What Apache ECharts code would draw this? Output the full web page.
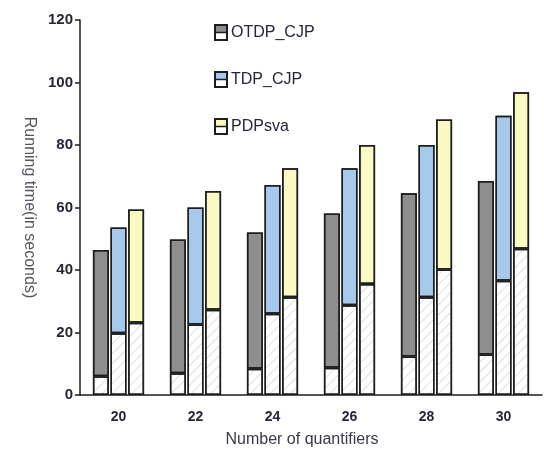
<!DOCTYPE html>
<html>
<head>
<meta charset="utf-8">
<script src="https://cdn.jsdelivr.net/npm/echarts@6/dist/echarts.min.js"></script>
<style>
  html, body { margin: 0; padding: 0; background: #ffffff; }
  #chart { width: 544px; height: 453px; }
</style>
</head>
<body>
<div id="chart"></div>
<script>
// Number of quantifiers
var categories = ['20', '22', '24', '26', '28', '30'];

// Running time (s): lower hatched part and full bar height per method
var otdpBase  = [6.0, 7.0, 8.4, 8.7, 12.3, 13.0];
var otdpTotal = [46.4, 49.8, 52.0, 58.1, 64.6, 68.5];
var tdpBase   = [19.8, 22.6, 26.0, 28.7, 31.3, 36.6];
var tdpTotal  = [53.6, 60.0, 67.2, 72.6, 80.0, 89.4];
var pdpBase   = [23.1, 27.3, 31.3, 35.5, 40.2, 46.8];
var pdpTotal  = [59.4, 65.3, 72.6, 80.0, 88.2, 96.9];

var yTicks = [0, 20, 40, 60, 80, 100, 120];

var methods = [
  { name: 'OTDP_CJP', base: otdpBase, total: otdpTotal, color: '#8e8e8e',
    decal: { symbol: 'circle', symbolSize: 0.4, dashArrayX: [[4, 4]], dashArrayY: [4, 4], color: 'rgba(255,255,255,0.10)' } },
  { name: 'TDP_CJP',  base: tdpBase,  total: tdpTotal,  color: '#a6c8ea',
    decal: { symbol: 'rect', color: 'rgba(0,0,0,0)' } },
  { name: 'PDPsva',   base: pdpBase,  total: pdpTotal,  color: '#fafac2',
    decal: { symbol: 'rect', color: 'rgba(0,0,0,0)' } }
];

var edge = '#1e1e1e';
// thin diagonal hatching of the lower bar parts
var hatch = {
  symbol: 'rect',
  dashArrayX: [1, 0],
  dashArrayY: [1, 6],
  rotation: -Math.PI / 4,
  color: 'rgba(150,150,150,0.3)'
};

// Legend swatch: coloured upper half over a white lower half
function swatch(color) {
  var svg = '<svg xmlns="http://www.w3.org/2000/svg" width="14" height="17" viewBox="0 0 14 17">' +
    '<rect x="1" y="1" width="12" height="15" fill="#ffffff" stroke="' + edge + '" stroke-width="2"/>' +
    '<rect x="2" y="2" width="10" height="6.5" fill="' + color + '"/>' +
    '<line x1="1" y1="8.5" x2="13" y2="8.5" stroke="' + edge + '" stroke-width="1.5"/>' +
    '</svg>';
  return 'image://data:image/svg+xml;charset=utf-8,' + encodeURIComponent(svg);
}

var series = [];
methods.forEach(function (m, i) {
  series.push({
    name: m.name + ' (base)',
    type: 'bar',
    stack: 's' + i,
    barWidth: 16,
    barGap: '10%',
    data: m.base,
    itemStyle: { color: '#ffffff', borderColor: edge, borderWidth: 1.5, decal: hatch },
    emphasis: { disabled: true }
  });
  series.push({
    name: m.name,
    type: 'bar',
    stack: 's' + i,
    barWidth: 16,
    barGap: '10%',
    data: m.total.map(function (t, k) { return +(t - m.base[k]).toFixed(2); }),
    itemStyle: { color: m.color, borderColor: edge, borderWidth: 1.5, decal: m.decal },
    emphasis: { disabled: true }
  });
});

var chart = echarts.init(document.getElementById('chart'), null, { renderer: 'canvas' });
chart.setOption({
  animation: false,
  backgroundColor: '#ffffff',
  textStyle: { fontFamily: 'Liberation Sans, Arial, sans-serif' },
  grid: { left: 80, right: 2, top: 20, bottom: 56, containLabel: false },
  legend: {
    orient: 'vertical',
    left: 209,
    top: 19,
    itemWidth: 14,
    itemHeight: 17,
    itemGap: 30,
    selectedMode: false,
    textStyle: { fontSize: 16, color: '#262636', padding: [0, 0, 0, -2] },
    data: methods.map(function (m) { return { name: m.name, icon: swatch(m.color) }; })
  },
  xAxis: {
    type: 'category',
    data: categories,
    name: 'Number of quantifiers',
    nameLocation: 'middle',
    nameGap: 37,
    nameTextStyle: { fontSize: 16, color: '#3a3a4a', padding: [0, 18, 0, 0] },
    axisLine: { lineStyle: { color: edge, width: 1.5 } },
    axisTick: { length: 5, lineStyle: { color: edge, width: 1.5 } },
    axisLabel: { fontSize: 14, fontWeight: 'bold', color: '#262636', margin: 15 }
  },
  yAxis: {
    type: 'value',
    min: yTicks[0],
    max: yTicks[yTicks.length - 1],
    interval: yTicks[1] - yTicks[0],
    name: 'Running time(in seconds)',
    nameLocation: 'middle',
    nameRotate: -90,
    nameGap: 40,
    nameTextStyle: { fontSize: 16, color: '#5a5460' },
    splitLine: { show: false },
    axisLine: { show: true, lineStyle: { color: edge, width: 1.5 } },
    axisTick: { show: true, length: 5, lineStyle: { color: edge, width: 1.5 } },
    axisLabel: { fontSize: 15, fontWeight: 'bold', color: '#262636', margin: 7 }
  },
  aria: { enabled: true, decal: { show: true } },
  series: series
});
</script>
</body>
</html>
